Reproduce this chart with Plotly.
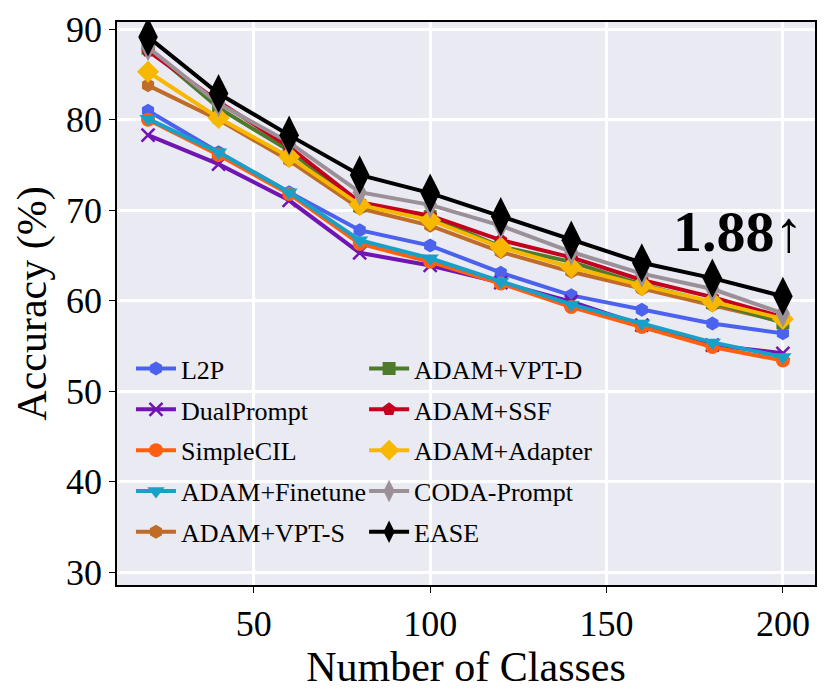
import plotly.graph_objects as go

classes = [20, 40, 60, 80, 100, 120, 140, 160, 180, 200]

l2p = [81.0, 76.4, 72.0, 67.8, 66.1, 63.1, 60.6, 59.0, 57.5, 56.4]
dualprompt = [78.3, 75.1, 71.1, 65.3, 63.9, 62.0, 59.9, 57.3, 55.1, 54.2]
simplecil = [80.0, 76.1, 71.8, 66.3, 64.3, 61.9, 59.3, 57.1, 54.9, 53.4]
adam_finetune = [80.1, 76.4, 72.0, 66.7, 64.7, 62.1, 59.6, 57.5, 55.4, 53.8]
adam_vpt_s = [83.8, 80.0, 75.5, 70.2, 68.3, 65.4, 63.2, 61.3, 59.5, 57.7]
adam_vpt_d = [87.9, 81.3, 76.6, 70.5, 69.3, 66.0, 64.3, 61.8, 59.8, 57.6]
adam_ssf = [87.6, 82.0, 77.0, 70.9, 69.4, 66.7, 64.8, 62.3, 60.4, 58.2]
adam_adapter = [85.3, 80.2, 75.9, 70.6, 68.9, 65.9, 63.7, 61.7, 59.9, 58.0]
coda_prompt = [88.0, 81.8, 77.5, 72.0, 70.6, 68.3, 65.4, 63.0, 61.3, 58.6]
ease = [89.15, 82.9, 78.3, 73.9, 71.9, 69.3, 66.7, 64.2, 62.5, 60.5]

names = ["L2P", "DualPrompt", "SimpleCIL", "ADAM+Finetune", "ADAM+VPT-S",
         "ADAM+VPT-D", "ADAM+SSF", "ADAM+Adapter", "CODA-Prompt", "EASE"]
series = [l2p, dualprompt, simplecil, adam_finetune, adam_vpt_s,
          adam_vpt_d, adam_ssf, adam_adapter, coda_prompt, ease]
colors = ["#4a62ee", "#7014b4", "#ff5f10", "#18a0c8", "#c06c28",
          "#4e7a2c", "#c4001e", "#f8b800", "#9c9098", "#000000"]
symbols = ["hexagon", "x-thin-open", "circle", "triangle-down", "hexagon",
           "square", "pentagon", "diamond", "diamond-tall", "diamond-tall"]
sizes = [14, 13, 14, 15, 14, 13, 14, 17, 20, 28]

fig = go.Figure()
for i, (n, s) in enumerate(zip(names, series)):
    mk = dict(symbol=symbols[i], size=sizes[i], color=colors[i])
    if symbols[i] == "x-thin-open":
        mk["line"] = dict(width=2.5, color=colors[i])
    fig.add_trace(go.Scatter(
        x=classes, y=s, name=n, mode="lines+markers", legendgroup=n,
        line=dict(color=colors[i], width=4),
        marker=mk,
        legend="legend" if i < 5 else "legend2"))

fig.add_annotation(x=187.5, y=67.6, text="<b>1.88↑</b>", showarrow=False,
                   font=dict(family="Liberation Serif", size=58, color="black"))

axis_common = dict(showgrid=True, gridcolor="white", gridwidth=3,
                   showline=True, linecolor="black", linewidth=1.5, mirror=True,
                   ticks="outside", ticklen=6, tickcolor="black", zeroline=False,
                   automargin=False, tickfont=dict(size=36, color="black"))

fig.update_xaxes(range=[11.2, 209.1], tickvals=[50, 100, 150, 200],
                 title=dict(text="Number of Classes", font=dict(size=42, color="black"),
                            standoff=0),
                 **axis_common)
fig.update_yaxes(range=[28.6, 90.8], tickvals=[30, 40, 50, 60, 70, 80, 90],
                 title=dict(text="Accuracy (%)", font=dict(size=42, color="black"),
                            standoff=6),
                 **axis_common)

# page body has 8px margin, so the figure is drawn a bit smaller and shifted
leg = dict(bgcolor="rgba(0,0,0,0)", font=dict(size=26, color="black",
           family="Liberation Serif"), tracegroupgap=4, itemwidth=40,
           yanchor="top", xanchor="left", y=0.426)
fig.update_layout(
    width=822, height=690,
    margin=dict(l=109, r=15, t=14, b=113),
    plot_bgcolor="#eaeaf2", paper_bgcolor="white",
    font=dict(family="Liberation Serif", color="black"),
    legend=dict(leg, x=0.02),
    legend2=dict(leg, x=0.354),
)

fig.write_html("out.html")
